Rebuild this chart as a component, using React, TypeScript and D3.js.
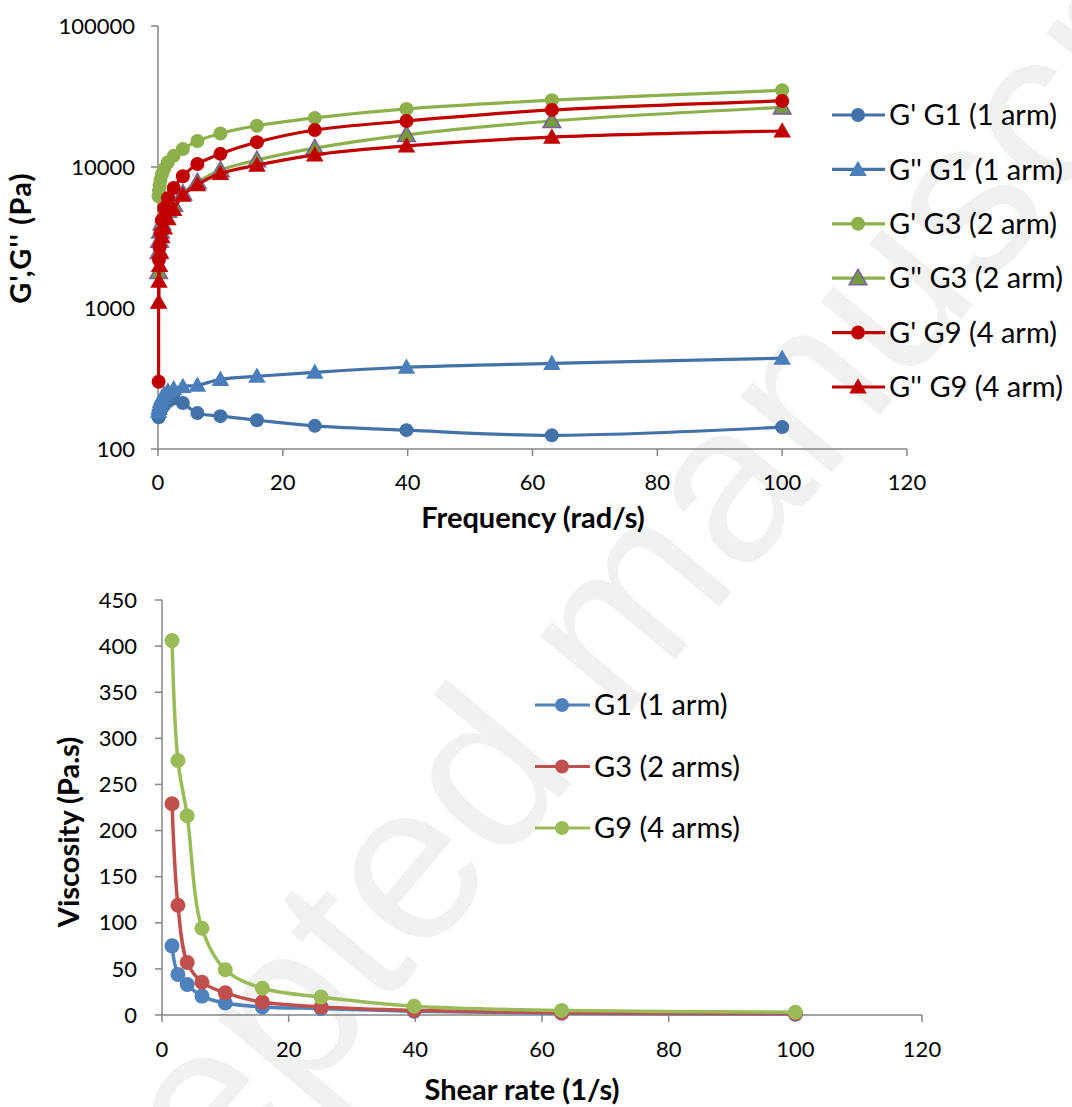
import React from "react";
import * as d3 from "d3";

// ---------- Data: top chart (frequency sweep) ----------
const freq = [0.1, 0.158, 0.251, 0.398, 0.631, 1, 1.585, 2.512, 3.981, 6.31, 10, 15.85, 25.12, 39.81, 63.1, 100];
const gp_G1 = [168, 172, 178, 186, 195, 205, 218, 228, 212, 180, 171, 160, 146, 136, 125, 143];
const gpp_G1 = [185, 195, 205, 218, 232, 245, 258, 268, 278, 283, 312, 328, 350, 380, 405, 440];
const gp_G3 = [6200, 6800, 7400, 8100, 8900, 9700, 10800, 12000, 13400, 15300, 17300, 19600, 22300, 25800, 29800, 35000];
const gpp_G3 = [1800, 2500, 3000, 3500, 4000, 4500, 4900, 5400, 6500, 7800, 9500, 11200, 13600, 16900, 21200, 26500];
const gp_G9 = [300, 2200, 2700, 3400, 4200, 5100, 6000, 7100, 8600, 10500, 12400, 15000, 18300, 21200, 25400, 29400];
const gpp_G9 = [1100, 1550, 2000, 2500, 3200, 3700, 4300, 5000, 6300, 7500, 9000, 10300, 12200, 14100, 16300, 18000];
const topXTicks = [0, 20, 40, 60, 80, 100, 120];
const topYTicks = [100, 1000, 10000, 100000];
const topLabels = ["G'  G1 (1 arm)", "G'' G1 (1 arm)", "G' G3 (2 arm)", "G'' G3 (2 arm)", "G' G9 (4 arm)", "G'' G9 (4 arm)"];

// ---------- Data: bottom chart (viscosity) ----------
const shear = [1.585, 2.512, 3.981, 6.31, 10, 15.85, 25.12, 39.81, 63.1, 100];
const visc_G1 = [75, 44, 33, 20.5, 13, 8.7, 7, 4, 2, 1];
const visc_G3 = [229, 119, 57, 35.5, 24, 14, 8.7, 5, 2.5, 1.5];
const visc_G9 = [406, 276, 216, 94, 49, 29, 19.5, 9.5, 5, 3];
const botXTicks = [0, 20, 40, 60, 80, 100, 120];
const botYTicks = [0, 50, 100, 150, 200, 250, 300, 350, 400, 450];
const botLabels = ["G1 (1 arm)", "G3 (2 arms)", "G9 (4 arms)"];

const FONT = "Lato, 'Open Sans', sans-serif";
const AXIS = "#868686";
const TICK_FS = 22;
const TITLE_FS = 29;
const LEG_FS = 29;

type Series = { values: number[]; color: string; marker: "circle" | "triangle"; fill: string; stroke: string };

function Marker({ x, y, kind, fill, stroke, r }: { x: number; y: number; kind: string; fill: string; stroke: string; r: number }) {
  if (kind === "circle") return <circle cx={x} cy={y} r={r} fill={fill} />;
  const s = r * 1.25;
  const pts = `${x},${y - s} ${x + s},${y + s * 0.75} ${x - s},${y + s * 0.75}`;
  return <polygon points={pts} fill={fill} stroke={stroke} strokeWidth={stroke === fill ? 0 : 1.6} />;
}

export default function App() {
  // ---- top chart scales ----
  const tx = d3.scaleLinear().domain([0, 120]).range([158, 907]);
  const ty = d3.scaleLog().domain([100, 100000]).range([449, 26]);
  const topSeries: Series[] = [
    { values: gp_G1, color: "#4372a9", marker: "circle", fill: "#4372a9", stroke: "#4372a9" },
    { values: gpp_G1, color: "#4372a9", marker: "triangle", fill: "#4a7ebb", stroke: "#4a7ebb" },
    { values: gp_G3, color: "#8db04d", marker: "circle", fill: "#8db04d", stroke: "#8db04d" },
    { values: gpp_G3, color: "#8db04d", marker: "triangle", fill: "#779a3c", stroke: "#7a62a0" },
    { values: gp_G9, color: "#c00000", marker: "circle", fill: "#c00000", stroke: "#c00000" },
    { values: gpp_G9, color: "#c00000", marker: "triangle", fill: "#c00000", stroke: "#c00000" },
  ];
  const topLine = d3
    .line<[number, number]>()
    .x((d) => tx(d[0]))
    .y((d) => ty(d[1]))
    .curve(d3.curveCatmullRom.alpha(0.5));

  // ---- bottom chart scales ----
  const bx = d3.scaleLinear().domain([0, 120]).range([162, 922]);
  const by = d3.scaleLinear().domain([0, 450]).range([1015, 600]);
  const botSeries = [
    { values: visc_G1, color: "#4f81bd" },
    { values: visc_G3, color: "#c0504d" },
    { values: visc_G9, color: "#9bbb59" },
  ];
  const botLine = d3
    .line<[number, number]>()
    .x((d) => bx(d[0]))
    .y((d) => by(d[1]))
    .curve(d3.curveCatmullRom.alpha(0.5));

  return (
    <svg width={1072} height={1107} style={{ position: "absolute", left: 0, top: 0, background: "#fff" }} fontFamily={FONT}>
      <rect x={0} y={0} width={1072} height={1107} fill="#fff" />
      {/* watermark */}
      <text
        x={653}
        y={686}
        transform="rotate(-50 653 686)"
        textAnchor="middle"
        fontFamily="'Liberation Sans', Arial, sans-serif"
        fontSize={225}
        fill="#f1f1f1"
      >
        Accepted manuscript
      </text>

      {/* ================= TOP CHART ================= */}
      <g>
        <line x1={158} x2={158} y1={ty(100000)} y2={ty(100)} stroke={AXIS} strokeWidth={1.5} />
        <line x1={158} x2={907} y1={449} y2={449} stroke={AXIS} strokeWidth={1.5} />
        {topYTicks.map((t) => (
          <g key={t}>
            <line x1={151} x2={158} y1={ty(t)} y2={ty(t)} stroke={AXIS} strokeWidth={1.5} />
            <text x={135} y={ty(t)} dy="0.35em" textAnchor="end" fontSize={TICK_FS} fill="#000">
              {t}
            </text>
          </g>
        ))}
        {topXTicks.map((t) => (
          <g key={t}>
            <line x1={tx(t)} x2={tx(t)} y1={449} y2={456} stroke={AXIS} strokeWidth={1.5} />
            <text x={tx(t)} y={482} dy="0.35em" textAnchor="middle" fontSize={TICK_FS} fill="#000">
              {t}
            </text>
          </g>
        ))}
        <text x={533} y={518} dy="0.35em" textAnchor="middle" fontSize={TITLE_FS} fontWeight="bold" fill="#000">
          Frequency (rad/s)
        </text>
        <text
          x={21}
          y={238}
          transform="rotate(-90 21 238)"
          dy="0.35em"
          textAnchor="middle"
          fontSize={TITLE_FS}
          fontWeight="bold"
          letterSpacing={1.2}
          fill="#000"
        >
          G',G'' (Pa)
        </text>
        {topSeries.map((s, i) => {
          const pts = freq.map((f, j) => [f, s.values[j]] as [number, number]);
          return (
            <g key={i}>
              <path d={topLine(pts) || ""} fill="none" stroke={s.color} strokeWidth={3.2} />
              {pts.map((p, j) => (
                <Marker key={j} x={tx(p[0])} y={ty(p[1])} kind={s.marker} fill={s.fill} stroke={s.stroke} r={7} />
              ))}
            </g>
          );
        })}
        {/* legend */}
        {topSeries.map((s, i) => {
          const y = 115 + i * 54.4;
          return (
            <g key={i}>
              <line x1={832} x2={885} y1={y} y2={y} stroke={s.color} strokeWidth={3.2} />
              <Marker x={858} y={y} kind={s.marker} fill={s.fill} stroke={s.stroke} r={7} />
              <text x={889} y={y} dy="0.35em" fontSize={LEG_FS} fill="#000">
                {topLabels[i]}
              </text>
            </g>
          );
        })}
      </g>

      {/* ================= BOTTOM CHART ================= */}
      <g>
        <line x1={162} x2={162} y1={600} y2={1015} stroke={AXIS} strokeWidth={1.5} />
        <line x1={162} x2={922} y1={1015} y2={1015} stroke={AXIS} strokeWidth={1.5} />
        {botYTicks.map((t) => (
          <g key={t}>
            <line x1={155} x2={162} y1={by(t)} y2={by(t)} stroke={AXIS} strokeWidth={1.5} />
            <text x={137} y={by(t)} dy="0.35em" textAnchor="end" fontSize={TICK_FS} fill="#000">
              {t}
            </text>
          </g>
        ))}
        {botXTicks.map((t) => (
          <g key={t}>
            <line x1={bx(t)} x2={bx(t)} y1={1015} y2={1022} stroke={AXIS} strokeWidth={1.5} />
            <text x={bx(t)} y={1049} dy="0.35em" textAnchor="middle" fontSize={TICK_FS} fill="#000">
              {t}
            </text>
          </g>
        ))}
        <text x={522} y={1090} dy="0.35em" textAnchor="middle" fontSize={TITLE_FS} fontWeight="bold" fill="#000">
          Shear rate (1/s)
        </text>
        <text
          x={69}
          y={832}
          transform="rotate(-90 69 832)"
          dy="0.35em"
          textAnchor="middle"
          fontSize={TITLE_FS}
          fontWeight="bold"
          fill="#000"
        >
          Viscosity (Pa.s)
        </text>
        {botSeries.map((s, i) => {
          const pts = shear.map((f, j) => [f, s.values[j]] as [number, number]);
          return (
            <g key={i}>
              <path d={botLine(pts) || ""} fill="none" stroke={s.color} strokeWidth={3.5} />
              {pts.map((p, j) => (
                <circle key={j} cx={bx(p[0])} cy={by(p[1])} r={7.5} fill={s.color} />
              ))}
            </g>
          );
        })}
        {botSeries.map((s, i) => {
          const y = 705 + i * 61.5;
          return (
            <g key={i}>
              <line x1={535} x2={590} y1={y} y2={y} stroke={s.color} strokeWidth={3.2} />
              <circle cx={562} cy={y} r={7} fill={s.color} />
              <text x={594} y={y} dy="0.35em" fontSize={LEG_FS} fill="#000">
                {botLabels[i]}
              </text>
            </g>
          );
        })}
      </g>
    </svg>
  );
}
